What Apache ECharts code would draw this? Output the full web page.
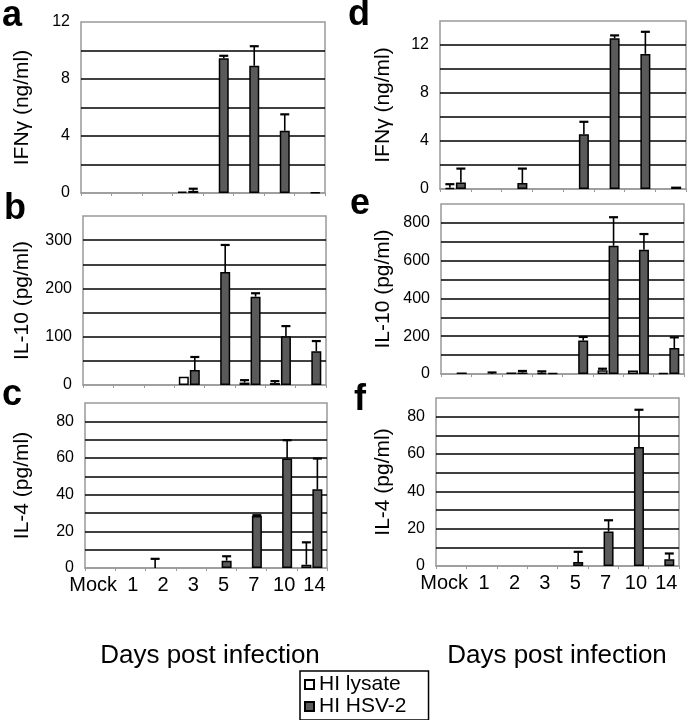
<!DOCTYPE html>
<html><head><meta charset="utf-8">
<script src="https://cdn.jsdelivr.net/npm/echarts@6/dist/echarts.min.js"></script>
<style>html,body{margin:0;padding:0;background:#fff}#c{width:688px;height:720px}</style>
</head><body><div id="c"></div>
<script>
const categories = ['Mock','1','2','3','5','7','10','14'];
const seriesNames = ['HI lysate','HI HSV-2'];

// a: IFNγ (ng/ml)
const lysateA    = [0, 0, 0, 0.1, 0, 0, 0, 0];
const lysateErrA = [0, 0, 0, 0, 0, 0, 0, 0];
const hsvA       = [0, 0, 0, 0.15, 9.45, 8.93, 4.37, 0.05];
const hsvErrA    = [0, 0, 0, 0.15, 0.18, 1.37, 1.15, 0];
const labelTicksA = [0, 4, 8, 12];

// b: IL-10 (pg/ml)
const lysateB    = [0, 0, 0, 17, 0, 5, 4, 0];
const lysateErrB = [0, 0, 0, 0, 0, 5, 4, 0];
const hsvB       = [0, 0, 0, 31, 234, 183, 101, 70];
const hsvErrB    = [0, 0, 0, 27, 56, 7, 21, 21];
const labelTicksB = [0, 100, 200, 300];

// c: IL-4 (pg/ml)
const lysateC    = [0, 0, 0, 0, 0, 0, 0, 1.8];
const lysateErrC = [0, 0, 5, 0, 0, 0, 0, 12.2];
const hsvC       = [0, 0, 0, 0, 4, 28.3, 59.7, 42.9];
const hsvErrC    = [0, 0, 0, 0, 2.4, 0.5, 10, 16.8];
const labelTicksC = [0, 20, 40, 60, 80];

// d: IFNγ (ng/ml)
const lysateD    = [0.1, 0, 0, 0, 0, 0, 0, 0];
const lysateErrD = [0.3, 0, 0, 0, 0, 0, 0, 0];
const hsvD       = [0.55, 0, 0.5, 0, 4.56, 12.56, 11.26, 0.2];
const hsvErrD    = [1.15, 0, 1.2, 0, 1.04, 0.24, 1.84, 0];
const labelTicksD = [0, 4, 8, 12];

// e: IL-10 (pg/ml)
const lysateE    = [0, 0, 8, 6, 0, 20, 18, 5];
const lysateErrE = [0, 0, 0, 8, 0, 8, 0, 0];
const hsvE       = [8, 0, 8, 4, 178, 679, 658, 137];
const hsvErrE    = [0, 8, 8, 0, 18, 151, 83, 57];
const labelTicksE = [0, 200, 400, 600, 800];

// f: IL-4 (pg/ml)
const lysateF    = [0, 0, 0, 0, 0, 0, 0, 0];
const lysateErrF = [0, 0, 0, 0, 0, 0, 0, 0];
const hsvF       = [0, 0, 0, 0, 2.2, 18.5, 63.8, 3.6];
const hsvErrF    = [0, 0, 0, 0, 5.4, 6, 19.9, 3.1];
const labelTicksF = [0, 20, 40, 60, 80];

const yTitles = ['IFNγ (ng/ml)','IL-10 (pg/ml)','IL-4 (pg/ml)','IFNγ (ng/ml)','IL-10 (pg/ml)','IL-4 (pg/ml)'];
const panelLetters = ['a','b','c','d','e','f'];
const xTitle = 'Days post infection';

const FONT = "'Liberation Sans', Arial, Helvetica, sans-serif";
const BAR_W = 10;
const GAP = 0.1;

const panels = [
  {lys: lysateA, lysE: lysateErrA, hsv: hsvA, hsvE: hsvErrA, ticks: labelTicksA, max: 12, step: 2,
   grid: {left: 81, top: 22, width: 244, height: 171}, showX: false},
  {lys: lysateB, lysE: lysateErrB, hsv: hsvB, hsvE: hsvErrB, ticks: labelTicksB, max: 350, step: 50,
   grid: {left: 83, top: 216, width: 243, height: 169}, showX: false},
  {lys: lysateC, lysE: lysateErrC, hsv: hsvC, hsvE: hsvErrC, ticks: labelTicksC, max: 90, step: 10,
   grid: {left: 85, top: 403, width: 242, height: 165}, showX: true},
  {lys: lysateD, lysE: lysateErrD, hsv: hsvD, hsvE: hsvErrD, ticks: labelTicksD, max: 14, step: 2,
   grid: {left: 440, top: 21, width: 246, height: 168}, showX: false},
  {lys: lysateE, lysE: lysateErrE, hsv: hsvE, hsvE: hsvErrE, ticks: labelTicksE, max: 900, step: 100,
   grid: {left: 441, top: 204, width: 243, height: 170}, showX: false},
  {lys: lysateF, lysE: lysateErrF, hsv: hsvF, hsvE: hsvErrF, ticks: labelTicksF, max: 90, step: 10,
   grid: {left: 436, top: 398, width: 243, height: 168}, showX: true}
];
const titleRightEdge = [33, 33, 33, 394, 394, 394];

function errRender(sign) {
  return function (params, api) {
    const i = api.value(0), v = api.value(1), e = api.value(2);
    if (!e) return null;
    const base = api.coord([i, v]);
    const top = api.coord([i, v + e]);
    const x = base[0] + sign * (BAR_W * (1 + GAP)) / 2;
    return {type: 'group', children: [
      {type: 'line', shape: {x1: x, y1: base[1], x2: x, y2: top[1]}, style: {stroke: '#000', lineWidth: 1.6}},
      {type: 'line', shape: {x1: x - 4.5, y1: top[1], x2: x + 4.5, y2: top[1]}, style: {stroke: '#000', lineWidth: 2.2}}
    ]};
  };
}

const grids = [], xAxes = [], yAxes = [], series = [];
panels.forEach((p, k) => {
  grids.push(Object.assign({show: true, borderColor: '#999', borderWidth: 1.5, backgroundColor: '#fff'}, p.grid));
  xAxes.push({
    type: 'category', gridIndex: k, data: categories,
    axisLine: {lineStyle: {color: '#999', width: 1.5}},
    axisTick: {show: true, length: 3, lineStyle: {color: '#999'}},
    axisLabel: {show: p.showX, fontSize: 20, color: '#000', fontFamily: FONT, margin: 7, interval: 0,
      formatter: v => (v === 'Mock' ? '{m|' + v + '}' : '{n|' + v + '}'),
      rich: {m: {fontSize: 20, fontFamily: FONT, color: '#000', padding: [0, 14, 0, 0]},
             n: {fontSize: 20, fontFamily: FONT, color: '#000', padding: [0, 0, 0, 5]}}}
  });
  yAxes.push({
    type: 'value', gridIndex: k, min: 0, max: p.max, interval: p.step,
    name: yTitles[k], nameLocation: 'middle', nameGap: p.grid.left - titleRightEdge[k],
    nameTextStyle: {fontSize: 21, color: '#000', fontFamily: FONT},
    axisLine: {show: false}, axisTick: {show: false},
    axisLabel: {fontSize: 16, color: '#000', fontFamily: FONT, margin: 11,
      formatter: v => (p.ticks.indexOf(v) >= 0 ? String(v) : '')},
    splitLine: {show: true, showMinLine: false, showMaxLine: false, lineStyle: {color: '#000', width: 1.6}}
  });
  const bars = [p.lys, p.hsv];
  const errs = [p.lysE, p.hsvE];
  const fills = ['#ffffff', '#5a5a5a'];
  [0, 1].forEach(s => {
    series.push({
      type: 'bar', name: seriesNames[s], xAxisIndex: k, yAxisIndex: k,
      barWidth: BAR_W, barGap: (GAP * 100) + '%',
      itemStyle: {color: fills[s], borderColor: '#000', borderWidth: 1.5},
      data: bars[s].map(v => (v === 0 ? '-' : v)), z: 3, animation: false
    });
  });
  [0, 1].forEach(s => {
    series.push({
      type: 'custom', name: seriesNames[s] + ' err', xAxisIndex: k, yAxisIndex: k,
      renderItem: errRender(s === 0 ? -1 : 1),
      data: bars[s].map((v, i) => [i, v, errs[s][i]]), z: 4, animation: false, silent: true
    });
  });
});

// [left, baseline]
const letterPos = [[2, 28], [4, 221], [2, 407], [348, 27], [350, 216], [354, 412]];
const graphics = panelLetters.map((L, k) => ({
  type: 'text', left: letterPos[k][0], top: letterPos[k][1] - 30,
  style: {text: L, font: 'bold 36px ' + FONT, fill: '#000'}
}));
graphics.push({type: 'text', x: 210, y: 656, style: {text: xTitle, font: '26px ' + FONT, fill: '#000', align: 'center', verticalAlign: 'middle'}});
graphics.push({type: 'text', x: 557, y: 656, style: {text: xTitle, font: '26px ' + FONT, fill: '#000', align: 'center', verticalAlign: 'middle'}});

const chart = echarts.init(document.getElementById('c'), null, {renderer: 'canvas'});
chart.setOption({
  animation: false,
  backgroundColor: '#fff',
  grid: grids, xAxis: xAxes, yAxis: yAxes, series: series,
  legend: {
    data: seriesNames, orient: 'vertical', left: 300, top: 671, height: 200,
    icon: 'rect', itemWidth: 9, itemHeight: 9, itemGap: 1,
    borderColor: '#000', borderWidth: 1.5, padding: [3, 22, 3, 4],
    textStyle: {fontSize: 21, lineHeight: 20, color: '#000', fontFamily: FONT}
  },
  graphic: graphics
});
</script></body></html>
